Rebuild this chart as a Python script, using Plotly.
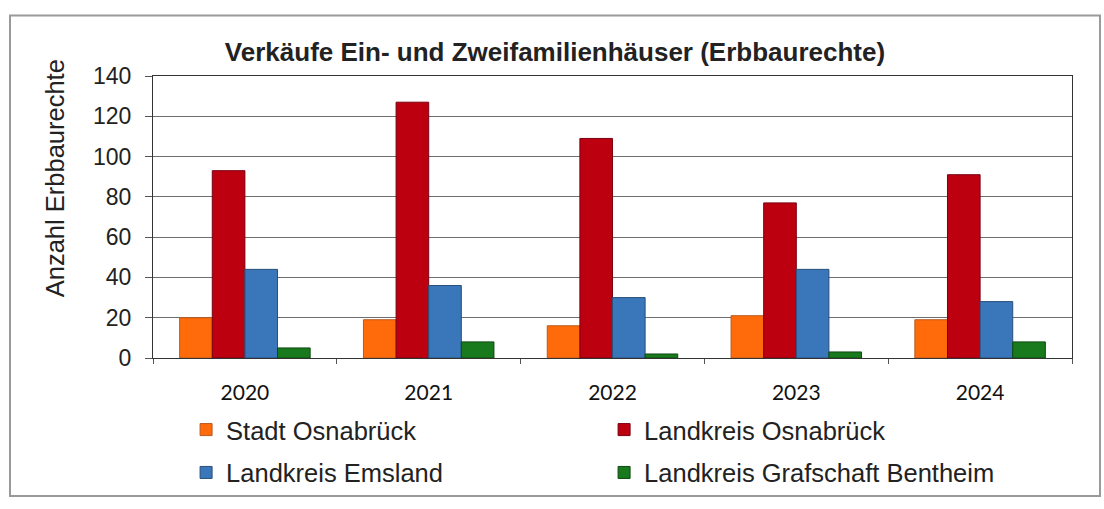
import plotly.graph_objects as go

years = ["2020", "2021", "2022", "2023", "2024"]
stadt_osnabrueck = [20, 19, 16, 21, 19]
landkreis_osnabrueck = [93, 127, 109, 77, 91]
landkreis_emsland = [44, 36, 30, 44, 28]
landkreis_bentheim = [5, 8, 2, 3, 8]

series_names = ["Stadt Osnabrück", "Landkreis Osnabrück",
                "Landkreis Emsland", "Landkreis Grafschaft Bentheim"]
series_values = [stadt_osnabrueck, landkreis_osnabrueck, landkreis_emsland, landkreis_bentheim]
colors = ["#FF6A0A", "#BC0010", "#3A76BA", "#187A1C"]
line_colors = ["#B85A20", "#7A0010", "#2A4F7A", "#0E4A10"]
legends = ["legend", "legend", "legend2", "legend2"]

fig = go.Figure()
for name, vals, c, lc, lg in zip(series_names, series_values, colors, line_colors, legends):
    fig.add_trace(go.Bar(x=years, y=vals, name=name, legend=lg,
                         marker=dict(color=c, line=dict(color=lc, width=1))))

fig.update_layout(
    width=1104, height=509,
    margin=dict(l=153, r=32, t=76, b=149),
    paper_bgcolor="white", plot_bgcolor="white",
    barmode="group", bargap=0.29, bargroupgap=0,
    font=dict(family="Liberation Sans, Arial", color="#222222"),
    title=dict(text="<b>Verkäufe Ein- und Zweifamilienhäuser (Erbbaurechte)</b>",
               x=555/1104, xanchor="center", xref="container",
               y=1-52/509, yanchor="middle", yref="container",
               font=dict(size=26, family="Liberation Sans, Arial", color="#222222")),
    xaxis=dict(showgrid=False, showline=True, linecolor="#333333", linewidth=1,
               mirror=True, ticks="outside", tickson="boundaries", ticklen=5,
               tickcolor="#555555", ticklabelstandoff=16,
               tickfont=dict(family="Lato", size=21, color="#111111")),
    yaxis=dict(range=[0, 140], dtick=20, showgrid=True, gridcolor="#6e6e6e", gridwidth=1,
               showline=True, linecolor="#333333", linewidth=1, mirror=True,
               ticks="outside", ticklen=7, tickcolor="#555555", ticklabelstandoff=9,
               tickfont=dict(size=23, color="#222222"),
               zeroline=False),
    annotations=[dict(text="Anzahl Erbbaurechte", textangle=-90,
                      xref="paper", yref="paper",
                      x=(55-153)/919, y=(360-179)/284,
                      xanchor="center", yanchor="middle", showarrow=False,
                      font=dict(size=25.5, color="#222222"))],
    legend=dict(orientation="h", x=0.036, xanchor="left", y=-0.172, yanchor="top",
                entrywidth=373, entrywidthmode="pixels",
                font=dict(size=25.5, color="#222222"), bgcolor="rgba(0,0,0,0)"),
    legend2=dict(orientation="h", x=0.036, xanchor="left", y=-0.324, yanchor="top",
                 entrywidth=373, entrywidthmode="pixels",
                 font=dict(size=25.5, color="#222222"), bgcolor="rgba(0,0,0,0)"),
    shapes=[dict(type="rect", xref="paper", yref="paper",
                 x0=(10-153)/919, x1=(1100-153)/919,
                 y0=(360-499)/284, y1=(360-15)/284,
                 line=dict(color="#9a9a9a", width=2), layer="below")],
    showlegend=True,
)

fig.write_html("out.html")
